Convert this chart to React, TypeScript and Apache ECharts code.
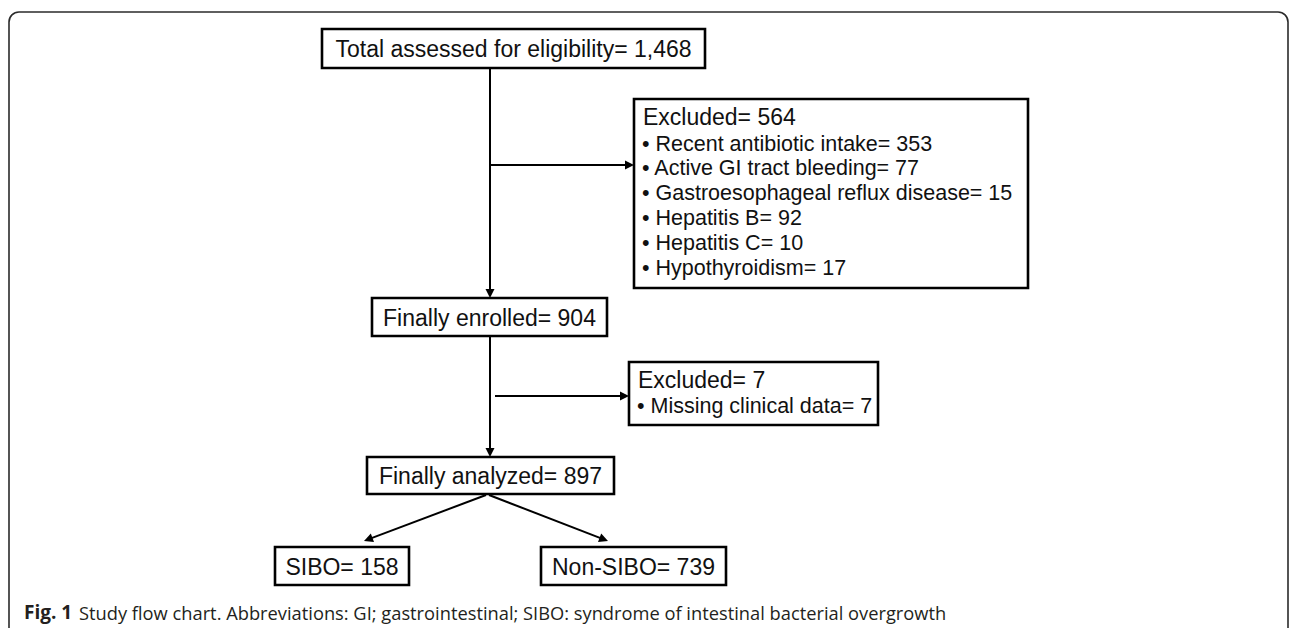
import React, { useEffect, useRef } from "react";
import * as echarts from "echarts";

// ---- data ----
const stageLabels = ["Total assessed for eligibility", "Finally enrolled", "Finally analyzed"];
const stageCounts = ["1,468", "904", "897"];
const exclusionTitles = ["Excluded", "Excluded"];
const exclusionTotals = [564, 7];
const exclusionReasonsA = [
  "Recent antibiotic intake",
  "Active GI tract bleeding",
  "Gastroesophageal reflux disease",
  "Hepatitis B",
  "Hepatitis C",
  "Hypothyroidism",
];
const exclusionCountsA = [353, 77, 15, 92, 10, 17];
const exclusionReasonsB = ["Missing clinical data"];
const exclusionCountsB = [7];
const groupLabels = ["SIBO", "Non-SIBO"];
const groupCounts = [158, 739];
const captionLead = "Fig. 1";
const captionText =
  "Study flow chart. Abbreviations: GI; gastrointestinal; SIBO: syndrome of intestinal bacterial overgrowth";

// ---- layout ----
const FONT = "Liberation Sans, Arial, sans-serif";
const BOX_STROKE = 2.6;
const LINE_W = 2;

const stageBoxes = [
  { x: 322, y: 29, w: 383, h: 39 },
  { x: 372, y: 298, w: 235, h: 38 },
  { x: 367, y: 457, w: 247, h: 37 },
];
const groupBoxes = [
  { x: 275, y: 547, w: 134, h: 38 },
  { x: 541, y: 547, w: 185, h: 38 },
];
const exclBoxes = [
  { x: 634, y: 99, w: 394, h: 189, titleY: 117, firstY: 143.5, step: 24.8 },
  { x: 629, y: 362, w: 249, h: 63, titleY: 380, firstY: 406, step: 24.8 },
];

function box(b: { x: number; y: number; w: number; h: number }) {
  return {
    type: "rect",
    shape: { x: b.x, y: b.y, width: b.w, height: b.h },
    style: { fill: "#fff", stroke: "#000", lineWidth: BOX_STROKE },
  };
}

function centeredText(b: { x: number; y: number; w: number; h: number }, text: string) {
  return {
    type: "text",
    style: {
      text,
      x: b.x + b.w / 2,
      y: b.y + b.h / 2 + 0.5,
      align: "center",
      verticalAlign: "middle",
      font: `23px ${FONT}`,
      fill: "#111",
    },
  };
}

function arrow(x1: number, y1: number, x2: number, y2: number) {
  const len = Math.hypot(x2 - x1, y2 - y1);
  const ux = (x2 - x1) / len;
  const uy = (y2 - y1) / len;
  const hl = 9;
  const hw = 4.5;
  const bx = x2 - ux * hl;
  const by = y2 - uy * hl;
  return [
    {
      type: "line",
      shape: { x1, y1, x2: bx + ux, y2: by + uy },
      style: { stroke: "#000", lineWidth: LINE_W },
    },
    {
      type: "polygon",
      shape: {
        points: [
          [x2, y2],
          [bx - uy * hw, by + ux * hw],
          [bx + uy * hw, by - ux * hw],
        ],
      },
      style: { fill: "#000" },
    },
  ];
}

function exclusionGroup(idx: number, reasons: string[], counts: number[]) {
  const b = exclBoxes[idx];
  const els: any[] = [box(b)];
  els.push({
    type: "text",
    style: {
      text: `${exclusionTitles[idx]}= ${exclusionTotals[idx]}`,
      x: b.x + 9,
      y: b.titleY,
      align: "left",
      verticalAlign: "middle",
      font: `23px ${FONT}`,
      fill: "#111",
    },
  });
  reasons.forEach((r, i) => {
    els.push({
      type: "text",
      style: {
        text: `\u2022 ${r}= ${counts[i]}`,
        x: b.x + 8,
        y: b.firstY + i * b.step,
        align: "left",
        verticalAlign: "middle",
        font: `21.5px ${FONT}`,
        fill: "#111",
      },
    });
  });
  return els;
}

export default function App() {
  const ref = useRef<HTMLDivElement>(null);

  useEffect(() => {
    document.body.style.margin = "0";
    if (!ref.current) return;
    const chart = echarts.init(ref.current, undefined, { renderer: "svg" });

    const cx = 490;
    const elements: any[] = [];

    // outer frame
    elements.push({
      type: "rect",
      shape: { x: 9, y: 12, width: 1279, height: 700, r: 10 },
      style: { fill: "none", stroke: "#2b2b2b", lineWidth: 1.6 },
    });

    // connectors
    elements.push(...arrow(cx, stageBoxes[0].y + stageBoxes[0].h, cx, stageBoxes[1].y));
    elements.push(...arrow(cx, 165, exclBoxes[0].x, 165));
    elements.push(...arrow(cx, stageBoxes[1].y + stageBoxes[1].h, cx, stageBoxes[2].y));
    elements.push(...arrow(cx + 5, 396, exclBoxes[1].x, 396));
    elements.push(...arrow(486, 495, 364, 541));
    elements.push(...arrow(489, 495, 608, 541));

    // stage boxes
    stageBoxes.forEach((b, i) => {
      elements.push(box(b));
      elements.push(centeredText(b, `${stageLabels[i]}= ${stageCounts[i]}`));
    });

    // group boxes
    groupBoxes.forEach((b, i) => {
      elements.push(box(b));
      elements.push(centeredText(b, `${groupLabels[i]}= ${groupCounts[i]}`));
    });

    // exclusion boxes
    elements.push(...exclusionGroup(0, exclusionReasonsA, exclusionCountsA));
    elements.push(...exclusionGroup(1, exclusionReasonsB, exclusionCountsB));

    // caption
    elements.push({
      type: "text",
      style: {
        text: captionLead,
        x: 24,
        y: 612,
        align: "left",
        verticalAlign: "middle",
        font: `bold 19px "Open Sans", sans-serif`,
        fill: "#231f20",
      },
    });
    elements.push({
      type: "text",
      style: {
        text: captionText,
        x: 79,
        y: 612,
        align: "left",
        verticalAlign: "middle",
        font: `18.3px "Open Sans", sans-serif`,
        fill: "#231f20",
      },
    });

    chart.setOption({
      animation: false,
      backgroundColor: "#fff",
      graphic: { elements },
    });

    return () => chart.dispose();
  }, []);

  return <div ref={ref} style={{ width: 1290, height: 628 }} />;
}
